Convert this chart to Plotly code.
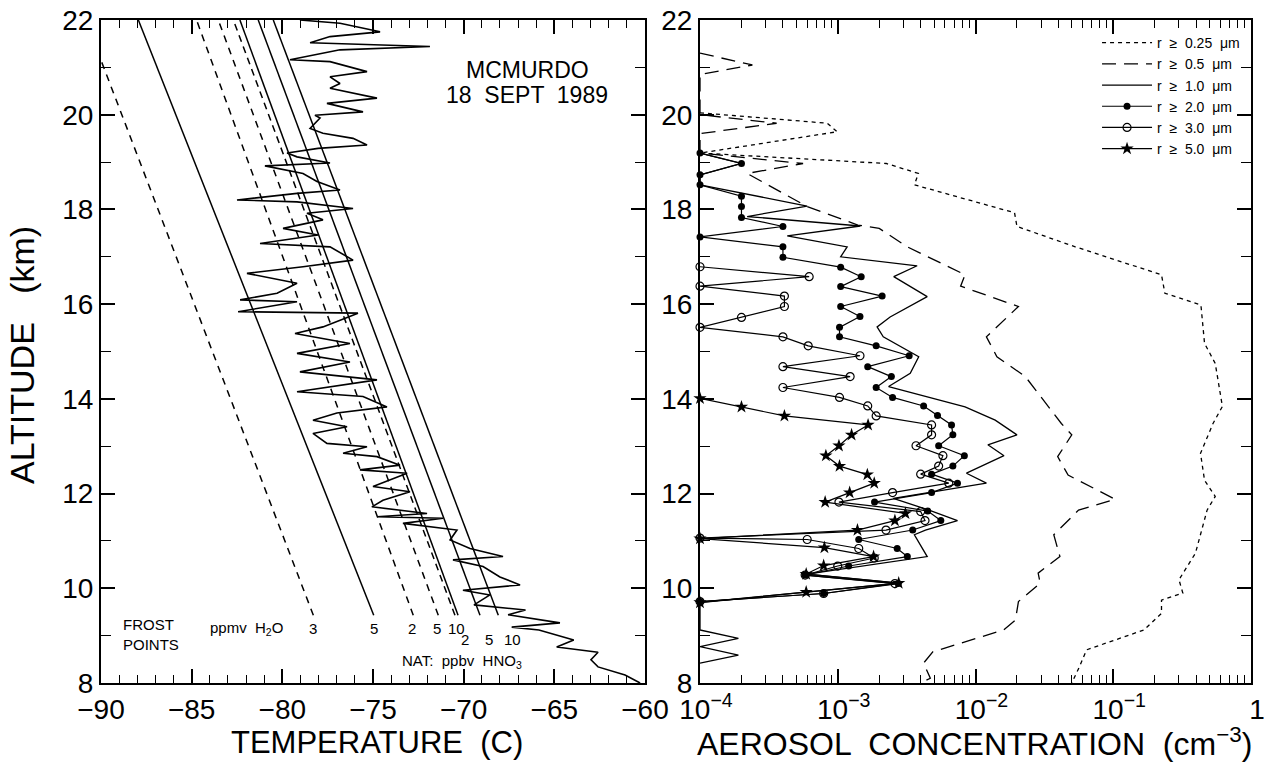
import plotly.graph_objects as go

W, H = 1264, 773
FONT = "Liberation Sans, Arial, sans-serif"
NARROW = "Liberation Sans Narrow, Arial Narrow, Liberation Sans, sans-serif"

# ---------------- Left panel data: temperature sounding ----------------
temp_alt = [22.00, 21.93, 21.75, 21.65, 21.52, 21.44, 21.37, 21.16, 21.12, 20.91,
            20.80, 20.66, 20.56, 20.35, 20.24, 20.06, 19.99, 19.93, 19.71, 19.61,
            19.50, 19.36, 19.29, 19.19, 19.11, 18.98, 18.92, 18.76, 18.59, 18.41,
            18.34, 18.20, 18.16, 18.02, 17.92, 17.78, 17.60, 17.46, 17.28, 17.21,
            16.93, 16.79, 16.65, 16.44, 16.23, 16.09, 16.05, 15.84, 15.81, 15.52,
            15.38, 15.17, 14.96, 14.78, 14.57, 14.40, 14.15, 14.05, 13.83, 13.70,
            13.55, 13.41, 13.27, 13.06, 12.99, 12.85, 12.78, 12.60, 12.50, 12.43,
            12.15, 12.04, 11.86, 11.72, 11.58, 11.51, 11.48, 11.37, 11.23, 11.02,
            10.84, 10.67, 10.60, 10.46, 10.24, 10.07, 9.96, 9.86, 9.65, 9.54,
            9.44, 9.27, 9.18, 9.12, 8.91, 8.76, 8.65, 8.49, 8.34, 8.17, 8.00]
temp_c = [-79.03, -76.82, -74.61, -77.37, -78.47, -71.86, -76.82, -79.58, -77.37, -75.33,
          -77.37, -76.82, -77.37, -74.78, -77.54, -75.55, -78.20, -77.92, -78.47, -77.76,
          -76.10, -75.33, -78.03, -79.74, -79.19, -77.37, -80.96, -78.86, -78.09, -76.82,
          -79.19, -82.50, -79.19, -76.10, -78.64, -77.76, -79.96, -78.03, -81.23, -77.37,
          -76.10, -78.86, -81.95, -79.19, -80.29, -82.33, -79.19, -82.44, -75.83, -77.76,
          -79.30, -76.27, -79.19, -76.27, -79.03, -74.78, -79.19, -75.55, -74.23, -76.99,
          -78.31, -76.43, -78.31, -77.54, -75.33, -76.65, -74.78, -73.51, -75.72, -73.12,
          -75.00, -72.96, -74.45, -75.06, -72.02, -74.78, -71.14, -73.35, -70.37, -70.75,
          -69.65, -67.83, -70.59, -68.93, -68.00, -66.89, -70.04, -68.55, -69.43, -66.59,
          -67.55, -64.69, -67.35, -65.85, -63.93, -64.87, -62.59, -62.98, -62.59, -61.10, -60.27]

# frost point / NAT saturation lines (temperature at 9.43 km and 22 km)
line_alt = [9.43, 22.0]
frost_h2o_3 = [-78.29, -90.85]
frost_h2o_5 = [-74.96, -87.94]
nat_a_2 = [-72.78, -84.73]
nat_a_5 = [-71.40, -83.53]
nat_a_10 = [-70.48, -82.70]
nat_b_2 = [-70.31, -82.34]
nat_b_5 = [-69.10, -81.33]
nat_b_10 = [-68.09, -80.50]

# ---------------- Right panel data: aerosol concentration (cm^-3) ----------------
r025_alt = [20.04, 19.82, 19.64, 19.19, 18.97, 18.76, 18.52, 17.93, 17.64, 17.21,
            16.62, 16.23, 15.98, 15.17, 14.75, 13.84, 13.48, 12.85, 12.28, 11.94,
            11.65, 10.74, 10.18, 9.90, 9.75, 9.47, 9.12, 8.70, 8.35, 8.00]
r025 = [1e-4, 8.4e-4, 9.9e-4, 1e-4, 2.25e-3, 3.85e-3, 3.6e-3, 1.92e-2, 2.0e-2, 5.3e-2,
        0.224, 0.237, 0.433, 0.46, 0.55, 0.62, 0.53, 0.43, 0.46, 0.55,
        0.48, 0.395, 0.30, 0.32, 0.224, 0.224, 0.167, 6.4e-2, 5.7e-2, 5.0e-2]

r05_alt = [21.30, 21.05, 20.85, 20.00, 19.82, 19.60, 19.19, 18.97, 18.76, 18.34,
           18.06, 17.67, 17.60, 17.21, 16.62, 16.38, 15.95, 15.31, 14.89, 14.47,
           13.48, 13.24, 12.78, 12.39, 11.88, 11.65, 11.13, 10.67, 10.32, 10.11,
           9.72, 9.33, 9.12, 8.66, 8.42, 8.10, 8.00]
r05 = [1e-4, 2.4e-4, 1e-4, 1e-4, 3.6e-4, 1e-4, 1e-4, 5.6e-4, 2.2e-4, 4.0e-4,
       6.0e-4, 1.4e-3, 2.0e-3, 3.2e-3, 8.4e-3, 7.8e-3, 2.05e-2, 1.2e-2, 1.43e-2, 2.3e-2,
       4.2e-2, 5.0e-2, 3.95e-2, 4.7e-2, 0.103, 5.6e-2, 3.7e-2, 4.1e-2, 2.85e-2, 2.95e-2,
       2.05e-2, 1.95e-2, 1.6e-2, 4.9e-3, 4.2e-3, 4.7e-3, 4.0e-3]

r10_alt = [19.19, 18.97, 18.73, 18.52, 18.07, 17.85, 17.65, 17.44, 17.21, 17.00,
           16.81, 16.58, 16.16, 15.73, 15.52, 15.31, 14.89, 14.54, 14.26, 13.83,
           13.55, 13.24, 13.03, 12.80, 12.43, 12.22, 11.90, 11.65, 11.43, 11.23,
           11.13, 10.67, 10.30, 10.11, 9.70, 9.12, 8.94, 8.77, 8.59, 8.42]
r10 = [1e-4, 2.0e-4, 1e-4, 1e-4, 6.0e-4, 2.2e-4, 1.46e-3, 4.3e-4, 1.17e-3, 1.05e-3,
       3.77e-3, 2.55e-3, 4.46e-3, 2.4e-3, 1.93e-3, 2.14e-3, 3.87e-3, 3.36e-3, 2.34e-3, 8.4e-3,
       1.39e-2, 2.0e-2, 1.23e-2, 1.61e-2, 8.6e-3, 1.2e-2, 2.53e-3, 4.6e-3, 7.4e-3, 4.33e-3,
       3.6e-3, 4.46e-3, 6.0e-4, 2.8e-3, 1e-4, 1e-4, 1.9e-4, 1e-4, 1.9e-4, 1e-4]

r20_alt = [19.19, 18.97, 18.73, 18.52, 18.28, 18.06, 17.83, 17.64, 17.42, 17.21,
           16.99, 16.78, 16.58, 16.37, 16.17, 15.95, 15.74, 15.51, 15.31, 15.12,
           14.91, 14.68, 14.47, 14.24, 14.03, 13.85, 13.65, 13.45, 13.24, 13.01,
           12.80, 12.58, 12.41, 12.22, 12.02, 11.82, 11.63, 11.43, 11.23, 11.03,
           10.84, 10.67, 10.47, 10.28, 10.10, 9.89, 9.72]
r20 = [1e-4, 2e-4, 1e-4, 1e-4, 2e-4, 2e-4, 2e-4, 4e-4, 1e-4, 4e-4,
       4e-4, 1.05e-3, 1.48e-3, 1.05e-3, 2.1e-3, 1.05e-3, 1.45e-3, 1.03e-3, 1.03e-3, 1.9e-3,
       3.3e-3, 1.65e-3, 2.45e-3, 1.9e-3, 2.5e-3, 4.2e-3, 5.3e-3, 6.7e-3, 6.85e-3, 5.4e-3,
       8.3e-3, 6.85e-3, 4.8e-3, 7.4e-3, 4.8e-3, 1.85e-3, 4.5e-3, 5.6e-3, 3.5e-3, 1.42e-3,
       2.7e-3, 3.2e-3, 1.2e-3, 5.8e-4, 2.75e-3, 7.9e-4, 1e-4]

r30_alt = [16.79, 16.58, 16.38, 16.17, 15.95, 15.72, 15.51, 15.31, 15.12, 14.91,
           14.68, 14.47, 14.24, 14.03, 13.85, 13.64, 13.45, 13.24, 13.01, 12.80,
           12.58, 12.41, 12.22, 12.02, 11.82, 11.62, 11.43, 11.23, 11.06, 11.03,
           10.84, 10.64, 10.47, 10.28, 10.10, 9.89, 9.72]
r30 = [1e-4, 6.2e-4, 1e-4, 4.1e-4, 4.1e-4, 2e-4, 1e-4, 4e-4, 6.1e-4, 1.45e-3,
       4e-4, 1.23e-3, 4e-4, 1.03e-3, 1.65e-3, 1.9e-3, 4.8e-3, 4.8e-3, 3.7e-3, 5.8e-3,
       5.4e-3, 4e-3, 6.4e-3, 2.5e-3, 1.02e-3, 4e-3, 4.3e-3, 2.24e-3, 1e-4, 6e-4,
       1.42e-3, 1.84e-3, 1e-3, 5.8e-4, 2.6e-3, 7.9e-4, 1e-4]

r50_alt = [14.01, 13.83, 13.64, 13.45, 13.24, 13.01, 12.80, 12.58, 12.40, 12.22,
           12.02, 11.82, 11.58, 11.43, 11.23, 11.05, 10.86, 10.67, 10.48, 10.30,
           10.11, 9.92, 9.70]
r50 = [1e-4, 2.0e-4, 4.1e-4, 1.66e-3, 1.26e-3, 1.02e-3, 8.2e-4, 1.03e-3, 1.64e-3, 1.84e-3,
       1.22e-3, 8.1e-4, 3.1e-3, 2.6e-3, 1.39e-3, 1e-4, 8.0e-4, 1.82e-3, 7.9e-4, 5.9e-4,
       2.77e-3, 5.9e-4, 1e-4]

legend_names = ["r  ≥  0.25  μm", "r  ≥  0.5  μm", "r  ≥  1.0  μm",
                "r  ≥  2.0  μm", "r  ≥  3.0  μm", "r  ≥  5.0  μm"]

conc_tickvals = [1e-4, 1e-3, 1e-2, 1e-1, 1]
conc_ticktext = ["10<sup>−4</sup>", "10<sup>−3</sup>", "10<sup>−2</sup>", "10<sup>−1</sup>", "1"]

fig = go.Figure()

# ---- left panel ----
sat_lines = [
    (frost_h2o_3, "7px,6px"), (frost_h2o_5, "solid"),
    (nat_a_2, "7px,6px"), (nat_a_5, "7px,6px"), (nat_a_10, "7px,5px"),
    (nat_b_2, "solid"), (nat_b_5, "solid"), (nat_b_10, "solid"),
]
for vals, dash in sat_lines:
    fig.add_trace(go.Scatter(x=vals, y=line_alt, mode="lines",
                             line=dict(color="black", width=1.5, dash=dash),
                             showlegend=False, hoverinfo="skip", xaxis="x", yaxis="y"))

fig.add_trace(go.Scatter(x=temp_c, y=temp_alt, mode="lines",
                         line=dict(color="black", width=1.6),
                         showlegend=False, xaxis="x", yaxis="y"))

# ---- right panel ----
fig.add_trace(go.Scatter(x=r025, y=r025_alt, mode="lines", name=legend_names[0],
                         line=dict(color="black", width=1.3, dash="4px,4px"),
                         xaxis="x2", yaxis="y2"))
fig.add_trace(go.Scatter(x=r05, y=r05_alt, mode="lines", name=legend_names[1],
                         line=dict(color="black", width=1.3, dash="14px,8px"),
                         xaxis="x2", yaxis="y2"))
fig.add_trace(go.Scatter(x=r10, y=r10_alt, mode="lines", name=legend_names[2],
                         line=dict(color="black", width=1.3),
                         xaxis="x2", yaxis="y2"))
fig.add_trace(go.Scatter(x=r20, y=r20_alt, mode="lines+markers", name=legend_names[3],
                         line=dict(color="black", width=1.2),
                         marker=dict(symbol="circle", size=7, color="black"),
                         cliponaxis=False, xaxis="x2", yaxis="y2"))
fig.add_trace(go.Scatter(x=r30, y=r30_alt, mode="lines+markers", name=legend_names[4],
                         line=dict(color="black", width=1.2),
                         marker=dict(symbol="circle-open", size=8, color="black",
                                     line=dict(width=1.2, color="black")),
                         cliponaxis=False, xaxis="x2", yaxis="y2"))
fig.add_trace(go.Scatter(x=r50, y=r50_alt, mode="lines+markers", name=legend_names[5],
                         line=dict(color="black", width=1.2),
                         marker=dict(symbol="star", size=10, color="black"),
                         cliponaxis=False, xaxis="x2", yaxis="y2"))

axis_common = dict(showline=True, linecolor="black", linewidth=2, mirror="ticks",
                   ticks="inside", tickcolor="black", tickwidth=1.5, ticklen=14,
                   showgrid=False, zeroline=False, automargin=False,
                   tickfont=dict(family=FONT, size=28, color="black"))
minor_common = dict(ticks="inside", tickcolor="black", tickwidth=1.2, showgrid=False)

ydom = [90 / H, 753 / H]
fig.update_layout(
    width=W, height=H, autosize=False,
    margin=dict(l=0, r=0, t=0, b=0, pad=0, autoexpand=False),
    paper_bgcolor="white", plot_bgcolor="white",
    font=dict(family=FONT, color="black"),
    xaxis=dict(domain=[101 / W, 645 / W], range=[-90, -60], tick0=-90, dtick=5,
               anchor="y", minor=dict(dtick=1, ticklen=8, **minor_common), **axis_common),
    yaxis=dict(domain=ydom, range=[8, 22], tick0=8, dtick=2, anchor="x",
               minor=dict(dtick=1, ticklen=10, **minor_common), **axis_common),
    xaxis2=dict(domain=[700 / W, 1251 / W], type="log", range=[-4, 0],
                tickmode="array", tickvals=conc_tickvals, ticktext=conc_ticktext,
                ticklabelshift=6, ticklabeloverflow="allow", anchor="y2",
                minor=dict(dtick="D1", ticklen=8, **minor_common), **axis_common),
    yaxis2=dict(domain=ydom, range=[8, 22], tick0=8, dtick=2, anchor="x2",
                minor=dict(dtick=1, ticklen=10, **minor_common), **axis_common),
    legend=dict(x=0.985, y=0.965, xanchor="right", yanchor="top",
                bgcolor="rgba(0,0,0,0)", font=dict(family=FONT, size=14, color="black"),
                itemwidth=50, traceorder="normal", tracegroupgap=0),
    showlegend=True,
)

ann = []
title_common = dict(xref="paper", yref="paper", showarrow=False,
                    xanchor="center", yanchor="middle")
# axis titles
ann.append(dict(text="ALTITUDE   (km)", x=22 / W, y=1 - 355 / H, textangle=-90,
                font=dict(size=34, family=FONT), **title_common))
ann.append(dict(text="TEMPERATURE  (C)", x=377 / W, y=1 - 742 / H,
                font=dict(size=31, family=FONT), **title_common))
ann.append(dict(text="AEROSOL  CONCENTRATION  (cm<sup>−3</sup>)", x=974 / W, y=1 - 742 / H,
                font=dict(size=32, family=FONT), **title_common))
# station / date
ann.append(dict(text="MCMURDO", xref="x", yref="y", x=-66.5, y=20.94, showarrow=False,
                font=dict(size=23, family=FONT)))
ann.append(dict(text="18  SEPT  1989", xref="x", yref="y", x=-66.5, y=20.42, showarrow=False,
                font=dict(size=23, family=FONT)))
# line labels
small = dict(size=15, family=NARROW)
ann.append(dict(text="FROST<br>POINTS", xref="x", yref="y", x=-88.9, y=9.02, xanchor="left",
                align="left", showarrow=False, font=small))
ann.append(dict(text="ppmv  H<sub>2</sub>O", xref="x", yref="y", x=-82.0, y=9.16,
                showarrow=False, font=small))
for lab, tx in [("3", -78.3), ("5", -74.94), ("2", -72.85), ("5", -71.47), ("10", -70.37)]:
    ann.append(dict(text=lab, xref="x", yref="y", x=tx, y=9.16, showarrow=False, font=small))
for lab, tx in [("2", -69.93), ("5", -68.6), ("10", -67.33)]:
    ann.append(dict(text=lab, xref="x", yref="y", x=tx, y=8.91, showarrow=False, font=small))
ann.append(dict(text="NAT:  ppbv  HNO<sub>3</sub>", xref="x", yref="y", x=-70.1, y=8.46,
                showarrow=False, font=small))
fig.update_layout(annotations=ann)

fig.write_html("out.html")
